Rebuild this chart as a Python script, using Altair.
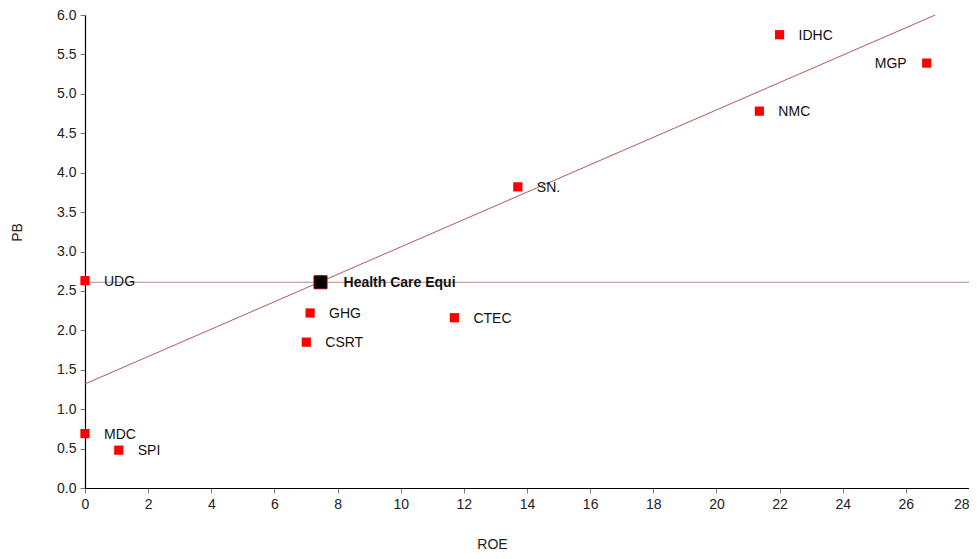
import altair as alt
import pandas as pd

# Company data
names = ["IDHC", "MGP", "NMC", "SN.", "UDG", "GHG", "CSRT", "CTEC", "MDC", "SPI"]
roe = [22.0, 26.66, 21.36, 13.71, 0.0, 7.13, 7.01, 11.70, 0.0, 1.07]
pb = [5.75, 5.39, 4.78, 3.82, 2.63, 2.22, 1.85, 2.16, 0.69, 0.48]
label_side = ["right", "left", "right", "right", "right", "right", "right", "right", "right", "right"]

# Sector point
sector_name = ["Health Care Equi"]
sector_roe = [7.46]
sector_pb = [2.61]

# Sector average PB line
avg_x = [0.0]
avg_x2 = [28.0]
avg_pb = [2.61]

# Regression line endpoints
trend_x = [0.0, 26.93]
trend_y = [1.32, 6.0]

df = pd.DataFrame({"name": names, "ROE": roe, "PB": pb, "side": label_side})
sector = pd.DataFrame({"name": sector_name, "ROE": sector_roe, "PB": sector_pb})
avg = pd.DataFrame({"x": avg_x, "x2": avg_x2, "y": avg_pb})
trend = pd.DataFrame({"ROE": trend_x, "PB": trend_y})

FONT = "Liberation Sans"

xscale = alt.Scale(domain=[0, 28], nice=False, zero=True)
yscale = alt.Scale(domain=[0, 6], nice=False, zero=True)

xaxis = alt.Axis(
    values=list(range(0, 29, 2)), title="ROE", grid=False,
    labelFlush=False,
    labelAlign={"condition": {"test": "datum.value >= 28", "value": "right"}, "value": "center"},
    titleX=407, titleY=49, titleAnchor="start", titleAlign="center",
)
yaxis = alt.Axis(
    values=[i * 0.5 for i in range(13)], format=".1f", title="PB", grid=False,
    labelFlush=False,
    titleX=-61, titleY=217, titleAngle=-90, titleAlign="center",
)

x = alt.X("ROE:Q", scale=xscale, axis=xaxis)
y = alt.Y("PB:Q", scale=yscale, axis=yaxis)

hline = alt.Chart(avg).mark_rule(color="#c48a84", strokeWidth=1).encode(
    x=alt.X("x:Q", scale=xscale, axis=xaxis),
    x2="x2:Q",
    y=alt.Y("y:Q", scale=yscale, axis=yaxis),
)

trendline = alt.Chart(trend).mark_line(color="#b35a52", strokeWidth=1).encode(x=x, y=y)

pts = alt.Chart(df).mark_square(size=85, color="#ff0000", opacity=1).encode(x=x, y=y)

lbl_right = alt.Chart(df).transform_filter(alt.datum.side == "right").mark_text(
    align="left", baseline="middle", dx=19, dy=1, font=FONT, fontSize=14, color="#111111"
).encode(x=x, y=y, text="name:N")

lbl_left = alt.Chart(df).transform_filter(alt.datum.side == "left").mark_text(
    align="right", baseline="middle", dx=-20, dy=1, font=FONT, fontSize=14, color="#111111"
).encode(x=x, y=y, text="name:N")

sec_pt = alt.Chart(sector).mark_square(
    size=170, color="#000000", stroke="#8b0000", strokeWidth=1, opacity=1
).encode(x=x, y=y)

sec_lbl = alt.Chart(sector).mark_text(
    align="left", baseline="middle", dx=23, dy=1, font=FONT, fontSize=14,
    fontWeight="bold", color="#111111"
).encode(x=x, y=y, text="name:N")

chart = alt.layer(hline, trendline, pts, lbl_right, lbl_left, sec_pt, sec_lbl).properties(
    width=884,
    height=473,
    autosize=alt.AutoSizeParams(type="none"),
    padding={"left": 77, "top": 7, "right": 0, "bottom": 63},
).configure_view(stroke=None).configure_axis(
    domainColor="#000000",
    domainWidth=1.2,
    tickColor="#777777",
    tickSize=5,
    labelFont=FONT,
    labelFontSize=14,
    labelColor="#222222",
    labelPadding=4,
    titleFont=FONT,
    titleFontSize=14,
    titleFontWeight="normal",
    titleColor="#222222",
)

chart.save("out.html", embed_options={"renderer": "svg", "actions": False})
